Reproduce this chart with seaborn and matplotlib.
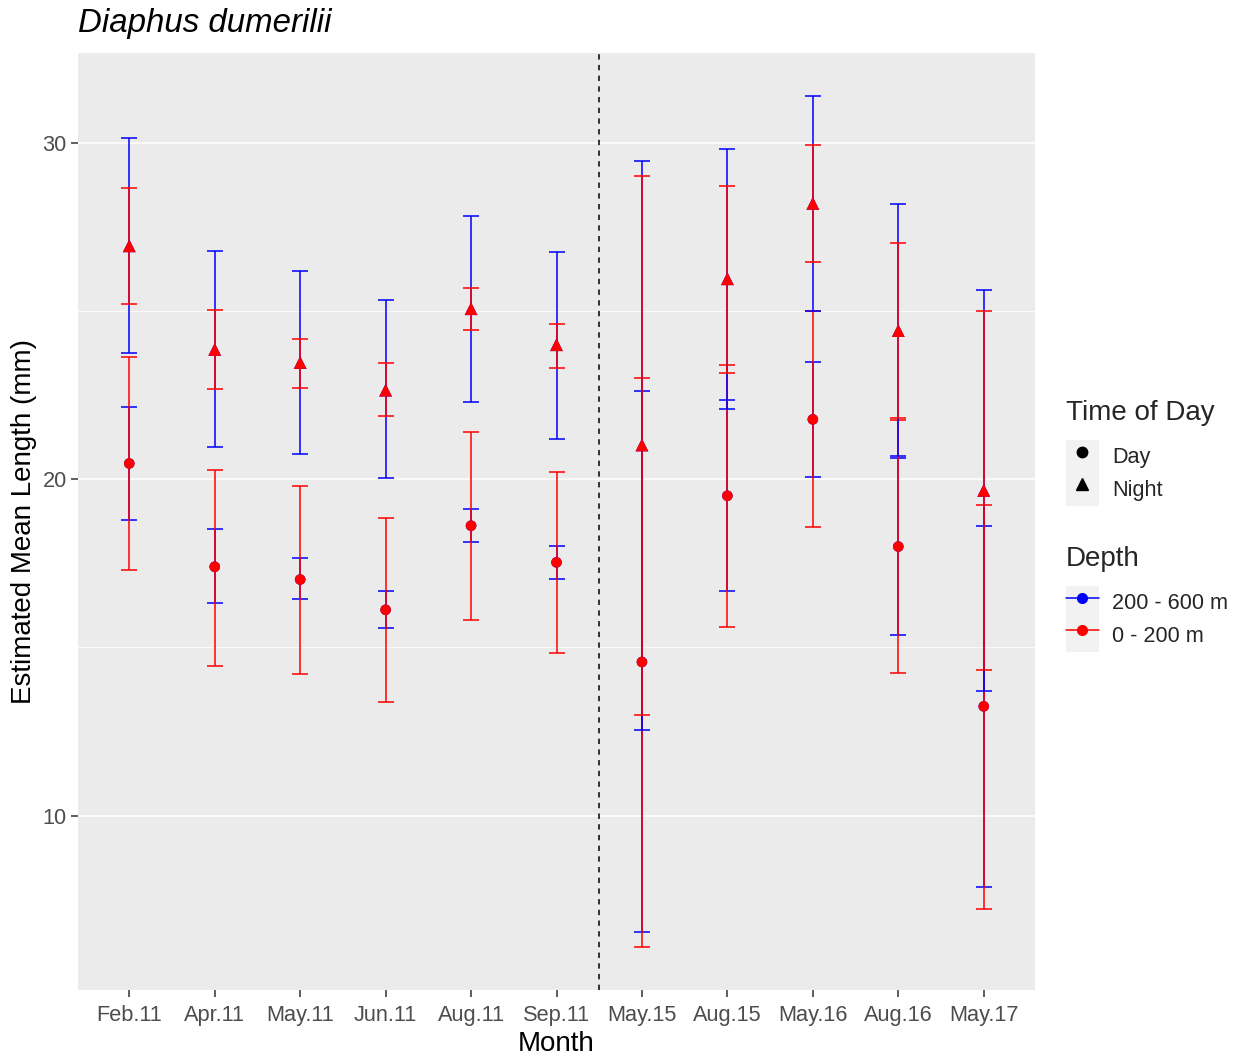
import numpy as np
import pandas as pd
import matplotlib
matplotlib.use("Agg")
import matplotlib.pyplot as plt
import seaborn as sns
from matplotlib.lines import Line2D
from matplotlib.patches import Rectangle
from matplotlib.legend_handler import HandlerTuple

# values
months = ["Feb.11", "Apr.11", "May.11", "Jun.11", "Aug.11", "Sep.11",
          "May.15", "Aug.15", "May.16", "Aug.16", "May.17"]

day_mean = [20.47, 17.40, 17.02, 16.12, 18.62, 17.53, 14.57, 19.51, 21.78, 18.00, 13.25]
night_mean = [26.94, 23.86, 23.47, 22.65, 25.07, 24.00, 21.02, 25.96, 28.20, 24.42, 19.67]

day_deep_lo = [18.79, 16.32, 16.45, 15.57, 18.13, 17.03, 6.55, 16.67, 20.07, 15.37, 7.87]
day_deep_hi = [22.15, 18.51, 17.65, 16.69, 19.12, 18.03, 22.61, 22.37, 23.48, 20.63, 18.62]
day_shallow_lo = [17.30, 14.45, 14.20, 13.37, 15.83, 14.84, 6.09, 15.60, 18.57, 14.24, 7.23]
day_shallow_hi = [23.63, 20.29, 19.80, 18.86, 21.40, 20.22, 23.02, 23.41, 25.00, 21.75, 19.25]
night_deep_lo = [23.76, 20.95, 20.74, 20.03, 22.31, 21.20, 12.54, 22.09, 25.00, 20.68, 13.70]
night_deep_hi = [30.13, 26.78, 26.20, 25.33, 27.83, 26.77, 29.47, 29.83, 31.40, 28.17, 25.63]
night_shallow_lo = [25.21, 22.68, 22.72, 21.87, 24.43, 23.30, 13.00, 23.15, 26.45, 21.83, 14.33]
night_shallow_hi = [28.65, 25.02, 24.17, 23.45, 25.70, 24.62, 29.01, 28.72, 29.95, 27.01, 25.00]

depth_colors = {"200 - 600 m": "blue", "0 - 200 m": "red"}
time_markers = {"Day": "o", "Night": "^"}

sns.set_theme(style="darkgrid", rc={"axes.facecolor": "#EBEBEB",
                                    "grid.color": "white",
                                    "figure.facecolor": "white"})
plt.rcParams["font.family"] = ["Liberation Sans", "DejaVu Sans"]

# long table, in the order the groups are drawn
groups = [
    ("Day", "200 - 600 m", day_mean, day_deep_lo, day_deep_hi),
    ("Day", "0 - 200 m", day_mean, day_shallow_lo, day_shallow_hi),
    ("Night", "200 - 600 m", night_mean, night_deep_lo, night_deep_hi),
    ("Night", "0 - 200 m", night_mean, night_shallow_lo, night_shallow_hi),
]
rows = []
for time, depth, mean, lo, hi in groups:
    for i, m in enumerate(months):
        rows.append({"Month": m, "pos": i, "Time": time, "Depth": depth,
                     "Length": mean[i], "lo": lo[i], "hi": hi[i]})
df = pd.DataFrame(rows)

fig = plt.figure(figsize=(12.41, 10.57), dpi=100)
ax = fig.add_axes([78 / 1241, 1 - 990 / 1057, (1035 - 78) / 1241, (990 - 53) / 1057])

# error bars
for time, depth, _, _, _ in groups:
    sub = df[(df["Time"] == time) & (df["Depth"] == depth)]
    ax.errorbar(sub["pos"], sub["Length"],
                yerr=[sub["Length"] - sub["lo"], sub["hi"] - sub["Length"]],
                fmt="none", ecolor=depth_colors[depth], elinewidth=1.1,
                capsize=6.1, capthick=1.1, zorder=2)

# points
for time, size in [("Day", 58), ("Night", 85)]:
    sub = df[df["Time"] == time]
    sns.scatterplot(data=sub, x="pos", y="Length", hue="Depth",
                    palette=depth_colors, marker=time_markers[time], s=size,
                    linewidth=0, legend=False, ax=ax, zorder=3)

ax.axvline(5.5, color="black", linestyle=(0, (3.5, 3.5)), linewidth=1.1, zorder=1)

ax.set_xlim(-0.6, len(months) - 0.4)
ax.set_ylim(4.82, 32.67)
ax.set_xticks(range(len(months)), months)
ax.set_yticks([10, 20, 30])
ax.set_yticks([15, 25], minor=True)
ax.grid(axis="x", visible=False)
ax.grid(axis="y", which="major", color="white", linewidth=1.1)
ax.grid(axis="y", which="minor", color="white", linewidth=0.55)
for s in ax.spines.values():
    s.set_visible(False)
ax.tick_params(axis="both", which="major", length=5, width=1.1, color="#333333",
               labelcolor="#4D4D4D", labelsize=15.7, pad=3,
               bottom=True, left=True)
ax.tick_params(axis="x", which="major", pad=5.5)
ax.tick_params(axis="y", which="minor", length=0)

ax.set_xlabel("Month", fontsize=20, color="black", labelpad=4)
ax.set_ylabel("Estimated Mean Length (mm)", fontsize=20, color="black", labelpad=4)
ax.set_title("Diaphus dumerilii", loc="left", fontsize=23.8, style="italic",
             color="black", pad=15)

# legends in ggplot style
key_bg = "#F2F2F2"
time_handles = [(Rectangle((0, 0), 1, 1, facecolor=key_bg, edgecolor="none"),
                 Line2D([], [], linestyle="none", marker=time_markers[t],
                        color="black", markersize=7.5 if t == "Day" else 8.5))
                for t in ["Day", "Night"]]
depth_handles = [(Rectangle((0, 0), 1, 1, facecolor=key_bg, edgecolor="none"),
                  Line2D([], [], color=depth_colors[d], linewidth=1.1,
                         marker="o", markersize=7))
                 for d in ["200 - 600 m", "0 - 200 m"]]

common = dict(loc="upper left", bbox_transform=fig.transFigure, frameon=False,
              fontsize=15.6, title_fontsize=20, alignment="left",
              handlelength=1.5, handleheight=1.96, handletextpad=0.64,
              labelspacing=0, borderpad=0, borderaxespad=0, numpoints=1,
              handler_map={tuple: HandlerTuple(ndivide=1)})
leg1 = fig.legend(time_handles, ["Day", "Night"], title="Time of Day",
                  bbox_to_anchor=(1066 / 1241, 1 - 400 / 1057), **common)
leg2 = fig.legend(depth_handles, ["200 - 600 m", "0 - 200 m"], title="Depth",
                  bbox_to_anchor=(1066 / 1241, 1 - 546 / 1057), **common)
for leg in (leg1, leg2):
    leg._legend_box.sep = 10

fig.savefig("out.png", dpi=100)
